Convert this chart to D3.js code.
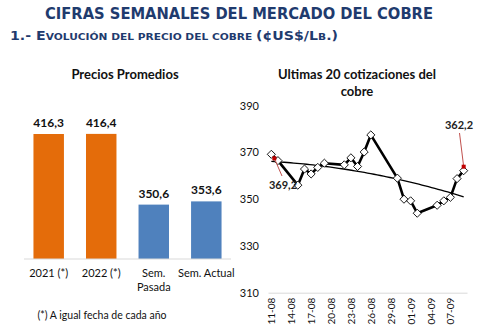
<!DOCTYPE html>
<html>
<head>
<meta charset="utf-8">
<script src="https://cdn.jsdelivr.net/npm/d3@7"></script>
<style>
  html, body { margin: 0; padding: 0; background: #fff; }
  svg { display: block; }
</style>
</head>
<body>
<svg id="chart" width="500" height="336"></svg>
<script>
// Average prices (¢US$/Lb.)
const avgCategories = [["2021 (*)"], ["2022 (*)"], ["Sem.", "Pasada"], ["Sem. Actual"]];
const avgValues = [416.3, 416.4, 350.6, 353.6];
const avgColors = ["#E46C0A", "#E46C0A", "#4F81BD", "#4F81BD"];

// Last daily quotes (dd-mm)
const quoteDates = ["11-08", "12-08", "15-08", "16-08", "17-08", "18-08", "19-08",
  "22-08", "23-08", "24-08", "25-08", "26-08", "30-08", "31-08", "01-09", "02-09",
  "05-09", "06-09", "07-09", "08-09", "09-09"];
const quoteValues = [369.2, 366.5, 356.0, 362.9, 360.8, 363.6, 365.4,
  364.7, 367.7, 364.0, 370.2, 377.5, 359.0, 350.0, 349.3, 344.0,
  347.4, 349.3, 350.8, 358.8, 362.2];
const yTicks = [310, 330, 350, 370, 390];
const xTickLabels = ["11-08", "14-08", "17-08", "20-08", "23-08", "26-08", "29-08", "01-09", "04-09", "07-09"];

const svg = d3.select("#chart");
const navy = "#1F3B6E";
const bodyFont = "Lato, 'Open Sans', sans-serif";

// ---- Headings ----
svg.append("text")
  .attr("x", 239).attr("y", 19)
  .attr("text-anchor", "middle")
  .attr("font-family", "'DejaVu Sans', Verdana, sans-serif")
  .attr("font-weight", "bold")
  .attr("font-size", 16)
  .attr("textLength", 388).attr("lengthAdjust", "spacingAndGlyphs")
  .attr("fill", navy)
  .text("CIFRAS SEMANALES DEL MERCADO DEL COBRE");

// Small-caps subtitle built from tspans
const sub = svg.append("text")
  .attr("x", 10).attr("y", 40)
  .attr("font-family", "'DejaVu Sans', Verdana, sans-serif")
  .attr("font-weight", "bold")
  .attr("fill", navy)
  .attr("textLength", 328).attr("lengthAdjust", "spacingAndGlyphs");
const subParts = [["1.- E", 12], ["VOLUCIÓN DEL PRECIO DEL COBRE ", 9], ["(¢US$/L", 12], ["B", 9], [".)", 12]];
subParts.forEach(([t, s]) => sub.append("tspan").attr("font-size", s).text(t));

// ---- Left chart: average prices ----
const bx = d3.scaleBand()
  .domain(d3.range(avgValues.length))
  .range([24, 231])
  .paddingInner(0.42).paddingOuter(0.18);
const by = d3.scaleLinear().domain([300, 416.3]).range([259, 134]);

svg.append("text")
  .attr("x", 125).attr("y", 79)
  .attr("text-anchor", "middle")
  .attr("font-family", bodyFont).attr("font-weight", "bold").attr("font-size", 13)
  .attr("fill", "#111")
  .text("Precios Promedios");

svg.append("g").selectAll("rect")
  .data(avgValues)
  .join("rect")
  .attr("x", (d, i) => bx(i))
  .attr("width", bx.bandwidth())
  .attr("y", d => by(d))
  .attr("height", d => by(300) - by(d))
  .attr("fill", (d, i) => avgColors[i]);

svg.append("line")
  .attr("x1", 24).attr("x2", 231)
  .attr("y1", by(300)).attr("y2", by(300))
  .attr("stroke", "#D9D9D9").attr("stroke-width", 1);

svg.append("g").selectAll("text")
  .data(avgValues)
  .join("text")
  .attr("x", (d, i) => bx(i) + bx.bandwidth() / 2)
  .attr("y", d => by(d) - 7)
  .attr("text-anchor", "middle")
  .attr("font-family", bodyFont).attr("font-weight", "bold").attr("font-size", 12)
  .attr("fill", "#111")
  .text(d => d3.format(".1f")(d).replace(".", ","));

avgCategories.forEach((lines, i) => {
  const t = svg.append("text")
    .attr("x", bx(i) + bx.bandwidth() / 2)
    .attr("y", 277)
    .attr("text-anchor", "middle")
    .attr("font-family", bodyFont).attr("font-size", 11)
    .attr("fill", "#111");
  lines.forEach((l, k) => t.append("tspan")
    .attr("x", bx(i) + bx.bandwidth() / 2)
    .attr("dy", k === 0 ? 0 : 13.5)
    .text(l));
});

svg.append("text")
  .attr("x", 102).attr("y", 319)
  .attr("text-anchor", "middle")
  .attr("font-family", bodyFont).attr("font-size", 10.5)
  .attr("fill", "#111")
  .text("(*) A igual fecha de cada año");

// ---- Right chart: last quotes ----
const parse = s => new Date(2022, +s.slice(3, 5) - 1, +s.slice(0, 2));
const dates = quoteDates.map(parse);
const DAY = 24 * 3600 * 1000;
const x = d3.scaleTime()
  .domain([new Date(+parse("11-08") - DAY / 2), new Date(+parse("09-09") + DAY / 2)])
  .range([268, 467]);
const y = d3.scaleLinear().domain([310, 390]).range([292.7, 105.7]);

svg.append("text")
  .attr("x", 357).attr("y", 79)
  .attr("text-anchor", "middle")
  .attr("font-family", bodyFont).attr("font-weight", "bold").attr("font-size", 13)
  .attr("fill", "#111")
  .selectAll("tspan")
  .data(["Ultimas 20 cotizaciones del", "cobre"])
  .join("tspan")
  .attr("x", 357)
  .attr("dy", (d, i) => i === 0 ? 0 : 17)
  .text(d => d);

// Y axis labels (no axis line)
const yAxis = d3.axisLeft(y).tickValues(yTicks).tickSize(0).tickPadding(0);
const gy = svg.append("g").attr("transform", "translate(259,0)").call(yAxis);
gy.select(".domain").remove();
gy.selectAll("text")
  .attr("font-family", bodyFont).attr("font-size", 11).attr("fill", "#111");

// X axis: baseline plus rotated day labels
const xAxis = d3.axisBottom(x)
  .tickValues(xTickLabels.map(parse))
  .tickFormat(d3.timeFormat("%d-%m"))
  .tickSize(0).tickPadding(0);
const gx = svg.append("g").attr("transform", `translate(0,${y(310)})`).call(xAxis);
gx.select(".domain").attr("stroke", "#D9D9D9").attr("stroke-width", 1);
gx.selectAll("text")
  .attr("font-family", bodyFont).attr("font-size", 10).attr("fill", "#111")
  .attr("text-anchor", "end")
  .attr("dy", "0.35em")
  .attr("transform", "translate(0,5) rotate(-90)")
  .attr("x", 0).attr("y", 0);

// Quadratic least-squares trend over elapsed days
const t0 = +dates[0];
const xs = dates.map(d => (+d - t0) / DAY);
function quadFit(xv, yv) {
  const S = k => d3.sum(xv, v => Math.pow(v, k));
  const T = k => d3.sum(xv, (v, i) => Math.pow(v, k) * yv[i]);
  const A = [[S(0), S(1), S(2)], [S(1), S(2), S(3)], [S(2), S(3), S(4)]];
  const B = [T(0), T(1), T(2)];
  for (let c = 0; c < 3; c++) {
    for (let r = c + 1; r < 3; r++) {
      const f = A[r][c] / A[c][c];
      for (let k = c; k < 3; k++) A[r][k] -= f * A[c][k];
      B[r] -= f * B[c];
    }
  }
  const coef = [0, 0, 0];
  for (let r = 2; r >= 0; r--) {
    let s = B[r];
    for (let k = r + 1; k < 3; k++) s -= A[r][k] * coef[k];
    coef[r] = s / A[r][r];
  }
  return coef;
}
const [c0, c1, c2] = quadFit(xs, quoteValues);
const span = xs[xs.length - 1];
const trendDays = d3.range(0, span + 0.001, span / 60);

svg.append("path")
  .datum(trendDays)
  .attr("fill", "none").attr("stroke", "#000").attr("stroke-width", 1.3)
  .attr("d", d3.line()
    .x(d => x(new Date(t0 + d * DAY)))
    .y(d => y(c0 + c1 * d + c2 * d * d)));

svg.append("path")
  .datum(quoteValues)
  .attr("fill", "none").attr("stroke", "#000").attr("stroke-width", 2.6)
  .attr("stroke-linejoin", "round")
  .attr("d", d3.line().x((d, i) => x(dates[i])).y(d => y(d)));

svg.append("g").selectAll("path")
  .data(quoteValues)
  .join("path")
  .attr("d", d3.symbol(d3.symbolDiamond2, 42))
  .attr("transform", (d, i) => `translate(${x(dates[i])},${y(d)})`)
  .attr("fill", "#fff").attr("stroke", "#000").attr("stroke-width", 0.9);

// Callouts for first and last quotes
const n = quoteValues.length;
const callouts = [
  { i: 0, lx: 283, ly: 189, ax: 282, ay: 176, dx: 3, dy: 4 },
  { i: n - 1, lx: 459, ly: 129, ax: 459.5, ay: 133, dx: 0, dy: -4 }
];
callouts.forEach(c => {
  const px = x(dates[c.i]) + c.dx, py = y(quoteValues[c.i]) + c.dy;
  svg.append("line")
    .attr("x1", c.ax).attr("y1", c.ay).attr("x2", px).attr("y2", py)
    .attr("stroke", "#C0504D").attr("stroke-width", 1);
  svg.append("rect")
    .attr("x", px - 2).attr("y", py - 2).attr("width", 4).attr("height", 4)
    .attr("fill", "#C00000");
  svg.append("text")
    .attr("x", c.lx).attr("y", c.ly)
    .attr("text-anchor", "middle")
    .attr("font-family", bodyFont).attr("font-weight", "bold").attr("font-size", 11)
    .attr("fill", "#222")
    .text(d3.format(".1f")(quoteValues[c.i]).replace(".", ","));
});
</script>
</body>
</html>
